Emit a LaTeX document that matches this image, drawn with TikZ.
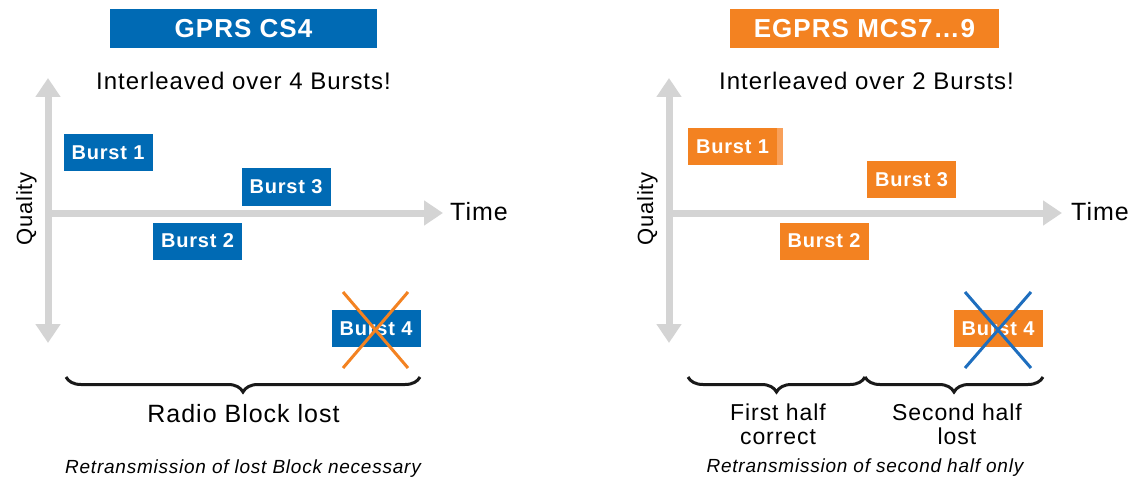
\documentclass[tikz,border=0pt]{standalone}
\usepackage{fontspec}
\setmainfont[LetterSpace=4]{Liberation Sans}
\usetikzlibrary{arrows.meta,decorations.pathreplacing}
\definecolor{gblue}{RGB}{0,106,180}
\definecolor{gorange}{RGB}{243,130,33}
\definecolor{gorangelight}{RGB}{248,160,90}
\definecolor{axisgray}{RGB}{212,212,212}
\definecolor{xblue}{RGB}{30,110,190}
\definecolor{bracecol}{RGB}{25,25,25}
\begin{document}
\begin{tikzpicture}[x=1pt,y=-1pt,
  titlebox/.style={fill=#1, text=white, font=\bfseries\fontsize{26}{30}\selectfont, minimum width=267pt, minimum height=39pt, inner sep=0pt},
  burst/.style={fill=#1, text=white, font=\bfseries\fontsize{20}{24}\selectfont, minimum width=89pt, minimum height=37pt, inner sep=0pt},
  subtitle/.style={font=\fontsize{24}{30}\selectfont, inner sep=0pt, anchor=base},
  axislabel/.style={font=\fontsize{25}{30}\selectfont, inner sep=0pt},
  axisline/.style={draw=axisgray, line width=7pt},
  tip/.style={-{Triangle[width=24pt,length=19pt]}},
  bothtips/.style={{Triangle[width=24pt,length=19pt]}-{Triangle[width=24pt,length=19pt]}},
  crossline/.style={line width=3pt, draw=#1},
  bracedeco/.style={draw=bracecol, line width=3pt, decorate, decoration={brace, mirror, amplitude=15pt}},
  bracelabel/.style={font=\fontsize{25}{22}\selectfont, inner sep=0pt, align=center, anchor=north},
  halflabel/.style={font=\fontsize{23}{24}\selectfont, inner sep=0pt, align=center, anchor=north},
  note/.style={font=\itshape\fontsize{19}{24}\selectfont, inner sep=0pt, anchor=base}
]
\useasboundingbox (0,0) rectangle (1129,481);

% ---------------- Left panel ----------------
\node[titlebox=gblue] (t1) at (243.5,28.5) {GPRS CS4};
\node[subtitle] (s1) at (243.5,90) {Interleaved over 4 Bursts!};

\coordinate (vt1) at (48,78);
\coordinate (vb1) at (48,343);
\coordinate (o1) at (48,213);
\coordinate (h1) at (443,213);
\draw[axisline,bothtips] (vt1) -- (vb1);
\draw[axisline,tip] (o1) -- (h1);
\node[axislabel, anchor=base west] (time1) at (450,220) {Time};
\node[axislabel, rotate=90, anchor=base, font=\fontsize{22}{28}\selectfont] (q1) at (32,209) {Quality};

\node[burst=gblue] (b11) at (108,152.5) {Burst 1};
\node[burst=gblue] (b13) at (286,187) {Burst 3};
\node[burst=gblue] (b12) at (197.5,241) {Burst 2};
\node[burst=gblue] (b14) at (376,328.5) {Burst 4};

\coordinate (xa1) at (343,292);
\coordinate (xb1) at (408,368);
\coordinate (xc1) at (408,292);
\coordinate (xd1) at (343,368);
\draw[crossline=gorange] (xa1) -- (xb1);
\draw[crossline=gorange] (xc1) -- (xd1);

\coordinate (bl1) at (66,377);
\coordinate (br1) at (420,377);
\draw[bracedeco] (bl1) -- (br1);
\node[bracelabel] (rb) at (243.5,404) {Radio Block lost};
\node[note] (n1) at (243,473) {Retransmission of lost Block necessary};

% ---------------- Right panel ----------------
\node[titlebox=gorange, minimum width=269pt] (t2) at (864.5,28.5) {EGPRS MCS7…9};
\node[subtitle] (s2) at (866.5,90) {Interleaved over 2 Bursts!};

\coordinate (vt2) at (669,78);
\coordinate (vb2) at (669,343);
\coordinate (o2) at (669,213);
\coordinate (h2) at (1062,213);
\draw[axisline,bothtips] (vt2) -- (vb2);
\draw[axisline,tip] (o2) -- (h2);
\node[axislabel, anchor=base west] (time2) at (1071,220) {Time};
\node[axislabel, rotate=90, anchor=base, font=\fontsize{22}{28}\selectfont] (q2) at (653,209) {Quality};

\node[burst=gorange] (b21) at (732.5,146.5) {Burst 1};
\fill[gorangelight] (b21.north east) rectangle ([xshift=6pt]b21.south east);
\node[burst=gorange] (b23) at (911.5,180) {Burst 3};
\node[burst=gorange] (b22) at (824,241) {Burst 2};
\node[burst=gorange] (b24) at (998,328.5) {Burst 4};

\coordinate (xa2) at (965,292);
\coordinate (xb2) at (1031,368);
\coordinate (xc2) at (1031,292);
\coordinate (xd2) at (965,368);
\draw[crossline=xblue] (xa2) -- (xb2);
\draw[crossline=xblue] (xc2) -- (xd2);

\coordinate (bl2) at (688,377);
\coordinate (bm2) at (865,377);
\coordinate (br2) at (1043,377);
\draw[bracedeco] (bl2) -- (bm2);
\draw[bracedeco] (bm2) -- (br2);
\node[halflabel] (fh) at (778,404) {First half\\correct};
\node[halflabel] (sh) at (957,404) {Second half\\lost};
\node[note] (n2) at (865,472) {Retransmission of second half only};
\end{tikzpicture}
\end{document}
